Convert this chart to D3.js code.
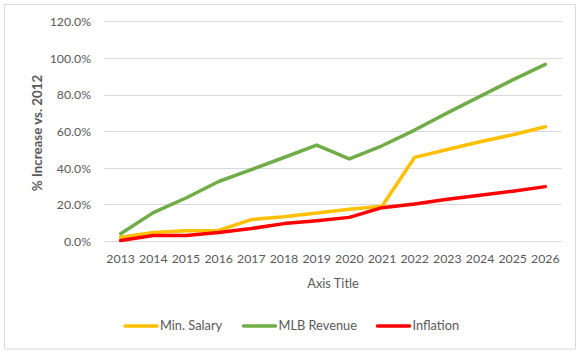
<!DOCTYPE html>
<html>
<head>
<meta charset="utf-8">
<script src="https://cdn.jsdelivr.net/npm/d3@7"></script>
<style>
  body { margin: 0; background: #fff; }
  text { font-family: Lato, "Open Sans", sans-serif; fill: #595959; }
</style>
</head>
<body>
<div id="chart"></div>
<script>
// data
const years = ["2013","2014","2015","2016","2017","2018","2019","2020","2021","2022","2023","2024","2025","2026"];
const minSalary  = [2.0, 4.6, 5.6, 5.8, 11.7, 13.3, 15.3, 17.3, 19.0, 45.7, 50.0, 54.2, 58.0, 62.4];
const mlbRevenue = [4.0, 15.5, 23.5, 32.5, 39.0, 45.6, 52.4, 44.8, 52.0, 60.6, 70.0, 79.0, 88.0, 96.5];
const inflation  = [0.3, 3.0, 3.0, 4.7, 6.8, 9.5, 11.1, 12.9, 18.2, 20.2, 22.8, 25.0, 27.2, 29.7];
const yTicks = [0, 20, 40, 60, 80, 100, 120];

const series = [
    { name: "Min. Salary", values: minSalary, color: "#FFC000" },
    { name: "MLB Revenue", values: mlbRevenue, color: "#70AD47" },
    { name: "Inflation", values: inflation, color: "#FF0000" }
];

const width = 585, height = 353;
const plot = { left: 104.3, right: 561.7, top: 21.3, bottom: 241 };
const fontSize = "12.3px";

const svg = d3.select("#chart").append("svg")
    .attr("width", width)
    .attr("height", height);

// chart area border
svg.append("rect")
    .attr("x", 4.5).attr("y", 4.5)
    .attr("width", 571).attr("height", 344.5)
    .attr("fill", "#fff")
    .attr("stroke", "#d9d9d9")
    .attr("stroke-width", 1);

const x = d3.scaleBand()
    .domain(years)
    .range([plot.left, plot.right]);

const y = d3.scaleLinear()
    .domain([0, 120])
    .range([plot.bottom, plot.top]);

// gridlines
svg.append("g")
    .selectAll("line")
    .data(yTicks)
    .join("line")
    .attr("x1", plot.left).attr("x2", plot.right)
    .attr("y1", d => Math.round(y(d)) + 0.5)
    .attr("y2", d => Math.round(y(d)) + 0.5)
    .attr("stroke", "#d9d9d9")
    .attr("stroke-width", 1);

// y axis labels
const yAxis = d3.axisLeft(y)
    .tickValues(yTicks)
    .tickFormat(d => d.toFixed(1) + "%")
    .tickSize(0)
    .tickPadding(0);

svg.append("g")
    .attr("transform", `translate(91,0)`)
    .call(yAxis)
    .call(g => g.select(".domain").remove())
    .selectAll("text")
    .attr("dy", "0.35em")
    .style("font-size", fontSize)
    .style("font-family", "Lato, sans-serif")
    .attr("fill", "#595959");

// x axis labels
const xAxis = d3.axisBottom(x).tickSize(0).tickPadding(0);
svg.append("g")
    .attr("transform", `translate(0,${plot.bottom + 13})`)
    .call(xAxis)
    .call(g => g.select(".domain").remove())
    .selectAll("text")
    .attr("dy", "0.71em")
    .style("font-size", fontSize)
    .style("font-family", "Lato, sans-serif")
    .attr("fill", "#595959");

// axis titles
svg.append("text")
    .attr("x", (plot.left + plot.right) / 2)
    .attr("y", 288)
    .attr("text-anchor", "middle")
    .style("font-size", "12.8px")
    .text("Axis Title");

svg.append("text")
    .attr("transform", `translate(42,133) rotate(-90)`)
    .attr("text-anchor", "middle")
    .style("font-size", "13.3px")
    .style("font-weight", "bold")
    .text("% Increase vs. 2012");

// lines
const line = d3.line()
    .x((d, i) => x(years[i]) + x.bandwidth() / 2)
    .y(d => y(d));

svg.append("g")
    .selectAll("path")
    .data(series)
    .join("path")
    .attr("d", d => line(d.values))
    .attr("fill", "none")
    .attr("stroke", d => d.color)
    .attr("stroke-width", 3.5)
    .attr("stroke-linecap", "round")
    .attr("stroke-linejoin", "round");

// legend
const legendX = [125, 243.5, 377.5];
const legend = svg.append("g")
    .selectAll("g")
    .data(series)
    .join("g")
    .attr("transform", (d, i) => `translate(${legendX[i]},326)`);

legend.append("line")
    .attr("x1", 0).attr("x2", 32)
    .attr("stroke", d => d.color)
    .attr("stroke-width", 3.5)
    .attr("stroke-linecap", "round");

legend.append("text")
    .attr("x", 35)
    .attr("dy", "0.35em")
    .style("font-size", "12.8px")
    .text(d => d.name);
</script>
</body>
</html>
